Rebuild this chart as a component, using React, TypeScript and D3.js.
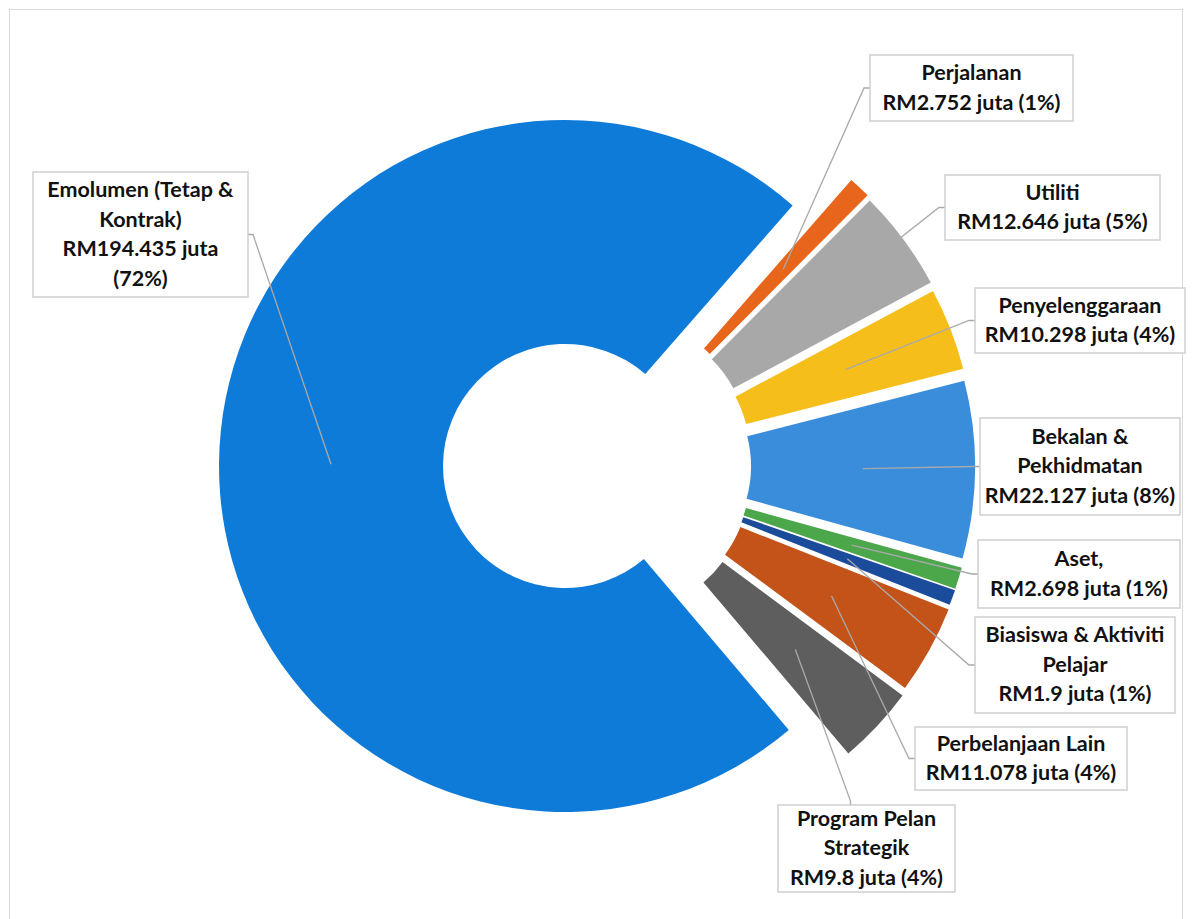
import * as d3 from 'd3';
import React, { useEffect, useRef } from 'react';

// Data (RM juta)
const categories = [
  'Emolumen (Tetap & Kontrak)',
  'Perjalanan',
  'Utiliti',
  'Penyelenggaraan',
  'Bekalan & Pekhidmatan',
  'Aset,',
  'Biasiswa & Aktiviti Pelajar',
  'Perbelanjaan Lain',
  'Program Pelan Strategik'
];
const values = [194.435, 2.752, 12.646, 10.298, 22.127, 2.698, 1.9, 11.078, 9.8];
const percents = [72, 1, 5, 4, 8, 1, 1, 4, 4];

// how each category name is broken inside its label box
const nameLines = [
  ['Emolumen (Tetap &', 'Kontrak)'],
  ['Perjalanan'],
  ['Utiliti'],
  ['Penyelenggaraan'],
  ['Bekalan &', 'Pekhidmatan'],
  ['Aset,'],
  ['Biasiswa & Aktiviti', 'Pelajar'],
  ['Perbelanjaan Lain'],
  ['Program Pelan', 'Strategik']
];
// the value line is wrapped for the big slice
const wrapValue = [true, false, false, false, false, false, false, false, false];

const colors = [
  '#0F7BD9',
  '#E8661C',
  '#A8A8A8',
  '#F6BE1A',
  '#3A8DDA',
  '#4CA64A',
  '#1B4C9B',
  '#C4531A',
  '#5E5E5E'
];

// label boxes: x, y, width, height, side the leader line enters from
const labelBoxes: [number, number, number, number, string][] = [
  [33, 172, 215, 125, 'right'],
  [870, 55, 203, 66, 'left'],
  [945, 175, 215, 65, 'left'],
  [975, 288, 210, 65, 'left'],
  [980, 418, 200, 97, 'left'],
  [978, 540, 202, 68, 'left'],
  [975, 617, 200, 96, 'left'],
  [915, 727, 212, 63, 'left'],
  [778, 805, 177, 87, 'top']
];

export default function App() {
  const svgRef = useRef<SVGSVGElement | null>(null);

  useEffect(() => {
    const width = 1192;
    const height = 919;
    const svg = d3.select(svgRef.current);
    svg.selectAll('*').remove();
    svg.attr('width', width).attr('height', height);

    // chart area border
    svg
      .append('rect')
      .attr('x', 9.5)
      .attr('y', 9.5)
      .attr('width', 1173)
      .attr('height', 930)
      .attr('fill', 'white')
      .attr('stroke', '#D9D9D9')
      .attr('stroke-width', 1);

    const cx = 565;
    const cy = 466;
    const outerR = 346;
    const innerR = 122;
    const explode = 64;
    const firstAngle = (139.7 * Math.PI) / 180;
    const TAU = 2 * Math.PI;

    const pie = d3
      .pie<number>()
      .sort(null)
      .value((d) => d)
      .startAngle(firstAngle)
      .endAngle(firstAngle + TAU);
    const arcs = pie(values);

    const arc = d3.arc<d3.PieArcDatum<number>>().innerRadius(innerR).outerRadius(outerR);

    const midOf = (i: number) => {
      const m = (arcs[i].startAngle + arcs[i].endAngle) / 2;
      return ((m % TAU) + TAU) % TAU;
    };

    // offset of each exploded slice (all but the first)
    const offsetOf = (i: number) => {
      if (i === 0) return [0, 0];
      const mid = midOf(i);
      const dir = Math.PI / 2 + (mid - Math.PI / 2) / 2;
      return [explode * Math.sin(dir), -explode * Math.cos(dir)];
    };

    const g = svg.append('g').attr('transform', `translate(${cx},${cy})`);

    g.selectAll('path.slice')
      .data(arcs)
      .enter()
      .append('path')
      .attr('class', 'slice')
      .attr('d', (d) => arc(d) as string)
      .attr('fill', (_, i) => colors[i])
      .attr('transform', (_, i) => {
        const [dx, dy] = offsetOf(i);
        return `translate(${dx},${dy})`;
      });

    // leader lines
    const midR = (innerR + outerR) / 2;
    arcs.forEach((_, i) => {
      const mid = midOf(i);
      const [dx, dy] = offsetOf(i);
      const px = cx + dx + midR * Math.sin(mid);
      const py = cy + dy - midR * Math.cos(mid);
      const [bx, by, bw, bh, side] = labelBoxes[i];
      let ex: number, ey: number, kx: number, ky: number;
      if (side === 'left') {
        ex = bx;
        ey = by + bh / 2;
        kx = ex - 6;
        ky = ey;
      } else if (side === 'right') {
        ex = bx + bw;
        ey = by + bh / 2;
        kx = ex + 5;
        ky = ey;
      } else {
        ex = bx + bw / 2 - 16;
        ey = by;
        kx = ex;
        ky = ey - 4;
      }
      svg
        .append('polyline')
        .attr('points', `${px},${py} ${kx},${ky} ${ex},${ey}`)
        .attr('fill', 'none')
        .attr('stroke', '#A9A9A9')
        .attr('stroke-width', 1.3);
    });

    // label boxes
    const lineH = 29.5;
    categories.forEach((c, i) => {
      const [bx, by, bw, bh] = labelBoxes[i];
      const valueLines = wrapValue[i]
        ? [`RM${values[i]} juta`, `(${percents[i]}%)`]
        : [`RM${values[i]} juta (${percents[i]}%)`];
      const lines = [...nameLines[i], ...valueLines];

      const lg = svg.append('g').attr('class', 'label').attr('data-name', c);
      lg.append('rect')
        .attr('x', bx)
        .attr('y', by)
        .attr('width', bw)
        .attr('height', bh)
        .attr('fill', 'white')
        .attr('stroke', '#CFCFCF')
        .attr('stroke-width', 1.5);

      const top = by + (bh - lines.length * lineH) / 2;
      lg.selectAll('text')
        .data(lines)
        .enter()
        .append('text')
        .attr('x', bx + bw / 2)
        .attr('y', (_, k) => top + k * lineH + lineH * 0.73)
        .attr('text-anchor', 'middle')
        .style('font-family', 'Lato, "Liberation Sans", sans-serif')
        .style('font-weight', 700)
        .style('font-size', '21.5px')
        .style('fill', '#111')
        .text((d) => d);
    });
  }, []);

  return (
    <div style={{ position: 'absolute', left: 0, top: 0, background: 'white' }}>
      <svg ref={svgRef} style={{ display: 'block' }} />
    </div>
  );
}
